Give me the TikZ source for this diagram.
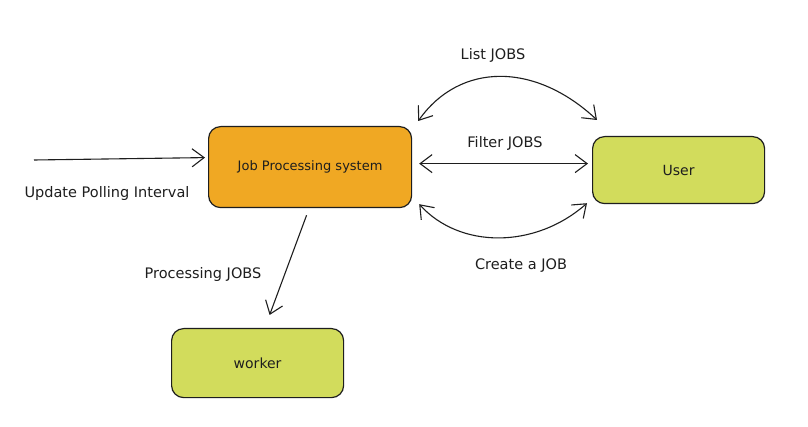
\documentclass[tikz,border=0pt]{standalone}
\usepackage{fontspec}
\setmainfont{DejaVu Sans}
\usetikzlibrary{arrows.meta,calc}
\definecolor{jpsorange}{HTML}{F0A823}
\definecolor{boxgreen}{HTML}{D2DC5C}
\definecolor{ink}{HTML}{1E1E1E}
\tikzset{
  box/.style={draw=ink, line width=1.2pt, rounded corners=12pt, anchor=north west, inner sep=0pt, text=ink},
  conn/.style={draw=ink, line width=1.1pt, {Straight Barb[length=12pt,width=18pt]}-{Straight Barb[length=12pt,width=18pt]}},
  oneway/.style={draw=ink, line width=1.1pt, -{Straight Barb[length=12pt,width=18pt]}},
  lbl/.style={font=\fontsize{13}{15}\selectfont, text=ink, inner sep=0pt},
  elbl/.style={font=\fontsize{14.5}{17}\selectfont, text=ink, inner sep=0pt}
}
\begin{document}
\begin{tikzpicture}[x=1pt,y=-1pt]
\useasboundingbox[fill=white] (0,0) rectangle (808,427);
\node[box, fill=jpsorange, minimum width=203pt, minimum height=81pt] (jps) at (208,126) {};
\node[lbl] at (jps.center) {Job Processing system};
\node[box, fill=boxgreen, minimum width=172pt, minimum height=67pt] (user) at (592,136) {};
\node[lbl, font=\fontsize{14}{16}\selectfont] at (user.center) {User};
\node[box, fill=boxgreen, minimum width=172pt, minimum height=69pt] (worker) at (171,328) {};
\node[lbl, font=\fontsize{14}{16}\selectfont] at (worker.center) {worker};
\coordinate (src) at (34,160);
\path[oneway] (src) -- ($(jps.west)+(-3,-9.5)$);
\node[elbl] (lupd) at (107,194) {Update Polling Interval};
\path[conn] ($(jps.north east)+(6,-5)$) .. controls (460,62) and (535,62) .. ($(user.north west)+(5,-16)$);
\node[elbl] (llist) at (493,55) {List JOBS};
\path[conn] ($(jps.east)+(7,-3.5)$) -- ($(user.west)+(-4,-6.5)$);
\node[elbl] (lfilter) at (505,143) {Filter JOBS};
\path[conn] ($(jps.south east)+(7,-4)$) .. controls (460,249) and (535,249) .. ($(user.south west)+(-5,-1)$);
\node[elbl] (lcreate) at (521,266) {Create a JOB};
\path[oneway] ($(jps.south)+(-3.5,7)$) -- ($(worker.north)+(12,-13)$);
\node[elbl] (lproc) at (203,275) {Processing JOBS};
\end{tikzpicture}
\end{document}
